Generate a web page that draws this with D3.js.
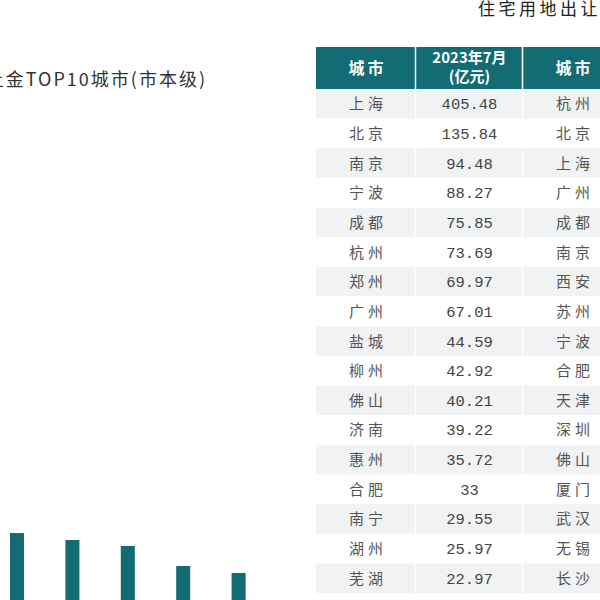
<!DOCTYPE html>
<html><head><meta charset="utf-8">
<script src="https://cdn.jsdelivr.net/npm/d3@7"></script>
<style>html,body{margin:0;padding:0;background:#fff;overflow:hidden}</style>
</head><body><svg id="c" width="600" height="600"></svg>
<script>
// ---- data ----
const leftTitle = "2023年7月住宅用地出让金TOP10城市(市本级)";
const rightTitle = "住宅用地出让金TOP20城市";
const headerCols = [["城市"], ["2023年7月", "(亿元)"], ["城市"]];
const tableCities = ["上海","北京","南京","宁波","成都","杭州","郑州","广州","盐城","柳州","佛山","济南","惠州","合肥","南宁","湖州","芜湖"];
const tableValues = [405.48,135.84,94.48,88.27,75.85,73.69,69.97,67.01,44.59,42.92,40.21,39.22,35.72,33,29.55,25.97,22.97];
const rankCities = ["杭州","北京","上海","广州","成都","南京","西安","苏州","宁波","合肥","天津","深圳","佛山","厦门","武汉","无锡","长沙"];
const barLabels = ["6","7","8","9","10"];
const barValues = [94.0, 88.4, 83.6, 67.5, 61.9];

const teal = "#136c74";
const svg = d3.select("#c");
svg.append("rect").attr("width",600).attr("height",600).attr("fill","#fff");

// ---- bar chart (bottom-left, mostly below view) ----
const x = d3.scaleBand().domain(barLabels).range([-10.7, 266.3]).paddingInner(0.747).paddingOuter(0.3735);
const y = d3.scaleLinear().domain([0, 450]).range([650, 90]);
svg.append("g").selectAll("rect").data(barValues).join("rect")
  .attr("x", (d,i)=>x(barLabels[i])).attr("width", x.bandwidth())
  .attr("y", d=>y(d)).attr("height", d=>y(0)-y(d)).attr("fill", teal);

// left title (start clipped by the view, as in the reference)
svg.append("text").attr("x", 207).attr("y", 86).attr("text-anchor","end")
  .attr("font-family","'Noto Sans CJK SC'").attr("font-size",18).attr("letter-spacing",2).attr("fill","#333")
  .text(leftTitle);

// right title
svg.append("text").attr("x", 478).attr("y", 15)
  .attr("font-family","'Noto Sans CJK SC'").attr("font-size",17).attr("letter-spacing",3.5).attr("fill","#222")
  .text(rightTitle);

// ---- table ----
const colEdges = [316, 416, 523, 623];
const headerTop = 47, headerBottom = 89;
const nRows = tableCities.length + 1;
const rowY = d3.scaleBand().domain(d3.range(nRows)).range([headerBottom, headerBottom + nRows*29.65]);
const g = svg.append("g");

// header
g.append("rect").attr("x", colEdges[0]).attr("y", headerTop).attr("width", colEdges[3]-colEdges[0]).attr("height", headerBottom-headerTop).attr("fill", teal);
headerCols.forEach((lines, ci) => {
  const cx = (colEdges[ci] + colEdges[ci+1]) / 2;
  if (lines.length === 1) {
    g.append("text").attr("x", cx + 1.5).attr("y", 74).attr("text-anchor","middle")
      .attr("font-family","'Noto Sans CJK SC'").attr("font-weight","bold").attr("font-size",16)
      .attr("letter-spacing",3).attr("fill","#fff").text(lines[0]);
  } else {
    lines.forEach((t, li) => {
      g.append("text").attr("x", cx).attr("y", 63 + li*19).attr("text-anchor","middle")
        .attr("font-family","'Noto Sans CJK SC'").attr("font-weight","bold").attr("font-size",15)
        .attr("fill","#fff").text(t);
    });
  }
});

// body rows
d3.range(nRows).forEach(i => {
  g.append("rect").attr("x", colEdges[0]).attr("y", rowY(i)).attr("width", colEdges[3]-colEdges[0])
    .attr("height", rowY.bandwidth()).attr("fill", i % 2 === 0 ? "#f1f2f3" : "#fff");
});
// column separators
[colEdges[1], colEdges[2]].forEach(xx => {
  g.append("line").attr("x1", xx-0.5).attr("x2", xx-0.5).attr("y1", headerTop).attr("y2", 620)
    .attr("stroke", "#fff").attr("stroke-width", 1.5);
});

const cityStyle = s => s.attr("font-family","'Noto Sans CJK SC'").attr("font-size",15).attr("letter-spacing",4).attr("fill","#555").attr("text-anchor","middle");
tableCities.forEach((c, i) => {
  const cy = rowY(i) + rowY.bandwidth()/2 + 5.5;
  g.append("text").attr("x", (colEdges[0]+colEdges[1])/2 + 2).attr("y", cy).call(cityStyle).text(c);
  g.append("text").attr("x", (colEdges[1]+colEdges[2])/2).attr("y", cy)
    .attr("font-family","'Liberation Mono'").attr("font-size",15.5).attr("fill","#444").attr("text-anchor","middle")
    .text(String(tableValues[i]));
  g.append("text").attr("x", (colEdges[2]+colEdges[3])/2 + 2).attr("y", cy).call(cityStyle).text(rankCities[i]);
});
</script></body></html>
